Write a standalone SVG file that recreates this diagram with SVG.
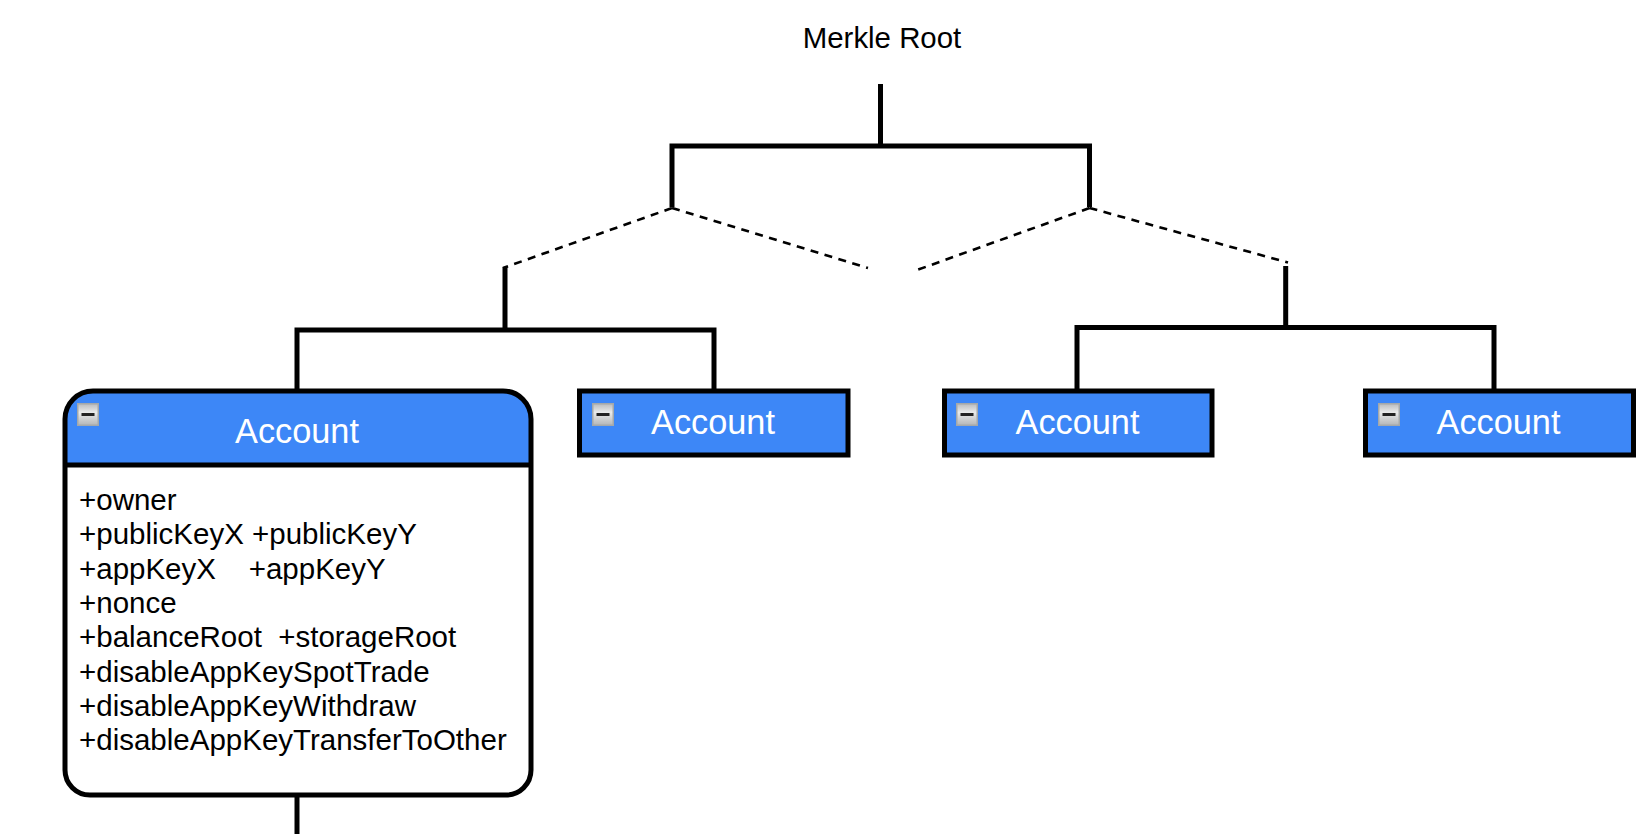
<svg xmlns="http://www.w3.org/2000/svg" width="1652" height="834" viewBox="0 0 1652 834">
<style>
text{font-family:"Liberation Sans",Arial,sans-serif}
.w{fill:none;stroke:#000;stroke-width:5}
.d{fill:none;stroke:#000;stroke-width:2.6;stroke-dasharray:8 6.500}
.hd{fill:#3d87f7;stroke:#000;stroke-width:5}
.t{fill:#fff;font-size:34.300px;text-anchor:middle}
.a{fill:#000;font-size:29.500px}
.m{fill:#000;font-size:29.400px;text-anchor:middle}
.ib{fill:url(#ig);stroke:#a4a8aa;stroke-width:1.500}
.im{fill:none;stroke:#222;stroke-width:3}
</style>
<defs>
<linearGradient id="ig" x1="0" y1="0" x2="0" y2="1"><stop offset="0" stop-color="#b9bbbd"/><stop offset=".4" stop-color="#e9eaea"/><stop offset="1" stop-color="#b4b6b8"/></linearGradient>
<g id="icon"><rect class="ib" x="0.750" y="0.750" width="20.500" height="21.500"/><path class="im" d="M4.500 11.500H17.500"/></g>
</defs>
<rect width="1652" height="834" fill="#fff"/>
<g id="connectors">
<path class="w" d="M880.500 84V146M672 207V146H1089.500V207"/>
<path class="d" d="M672 208L503 268M672 208L868 268M1089.500 208L917 270M1089.500 208L1288 262.500"/>
<path class="w" d="M505 267V330M297 389V330H714V389"/>
<path class="w" d="M1285.700 266V327.400M1077 389V327.400H1494V389"/>
<path class="w" d="M297 797V834"/>
</g>
<g id="root"><text class="m" x="882" y="48">Merkle Root</text></g>
<g id="account1">
<path d="M93 391H503A28 28 0 0 1 531 419V770A25 25 0 0 1 506 795H90A25 25 0 0 1 65 770V419A28 28 0 0 1 93 391Z" fill="#fff"/>
<path d="M93 391H503A28 28 0 0 1 531 419V465H65V419A28 28 0 0 1 93 391Z" fill="#3d87f7"/>
<path d="M93 391H503A28 28 0 0 1 531 419V770A25 25 0 0 1 506 795H90A25 25 0 0 1 65 770V419A28 28 0 0 1 93 391ZM65 465H531" class="w"/>
<use href="#icon" x="77" y="403"/>
<text class="t" x="297" y="443">Account</text>
<text class="a" x="79" y="509.600">+owner</text>
<text class="a" x="79" y="543.800">+publicKeyX +publicKeyY</text>
<text class="a" x="79" y="578.600" xml:space="preserve">+appKeyX    +appKeyY</text>
<text class="a" x="79" y="612.800">+nonce</text>
<text class="a" x="79" y="646.800" xml:space="preserve">+balanceRoot  +storageRoot</text>
<text class="a" x="79" y="681.600">+disableAppKeySpotTrade</text>
<text class="a" x="79" y="715.600">+disableAppKeyWithdraw</text>
<text class="a" x="79" y="750.400">+disableAppKeyTransferToOther</text>
</g>
<g id="account2"><rect class="hd" x="579.500" y="391" width="268.500" height="64"/><use href="#icon" x="592" y="403"/><text class="t" x="713" y="434">Account</text></g>
<g id="account3"><rect class="hd" x="944.500" y="391" width="267.500" height="64"/><use href="#icon" x="956" y="403"/><text class="t" x="1077.500" y="434">Account</text></g>
<g id="account4"><rect class="hd" x="1365.500" y="391" width="268" height="64"/><use href="#icon" x="1378" y="403"/><text class="t" x="1498.500" y="434">Account</text></g>
</svg>
